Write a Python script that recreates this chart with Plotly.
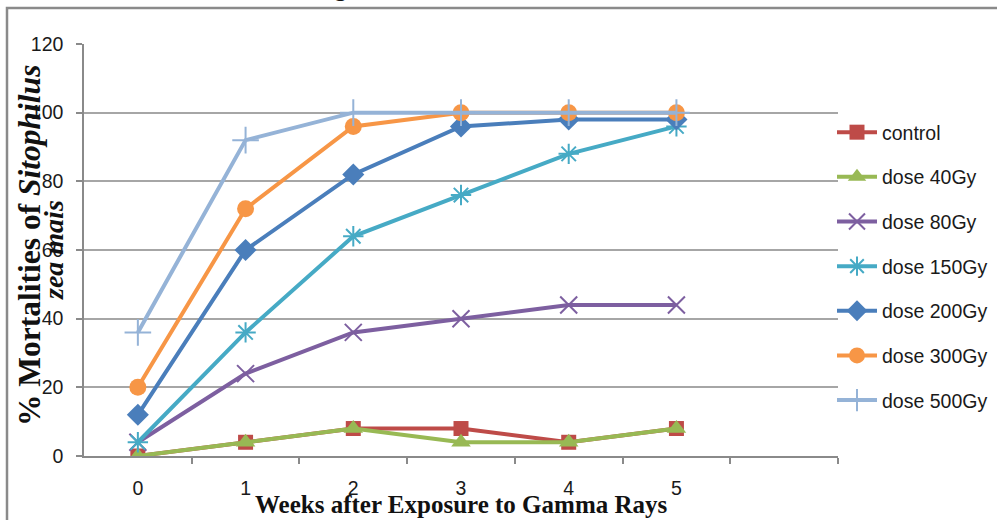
import plotly.graph_objects as go

weeks = [0, 1, 2, 3, 4, 5]
week_labels = ["0", "1", "2", "3", "4", "5"]
series_names = ["control", "dose 40Gy", "dose 80Gy", "dose 150Gy",
                "dose 200Gy", "dose 300Gy", "dose 500Gy"]
control = [0, 4, 8, 8, 4, 8]
dose_40 = [0, 4, 8, 4, 4, 8]
dose_80 = [4, 24, 36, 40, 44, 44]
dose_150 = [4, 36, 64, 76, 88, 96]
dose_200 = [12, 60, 82, 96, 98, 98]
dose_300 = [20, 72, 96, 100, 100, 100]
dose_500 = [36, 92, 100, 100, 100, 100]
y_ticks = [0, 20, 40, 60, 80, 100, 120]

values = [control, dose_40, dose_80, dose_150, dose_200, dose_300, dose_500]
colors = ["#BE4B48", "#98B954", "#7D5FA0", "#46AAC5", "#4A7EBB", "#F79646", "#95B3D7"]
symbols = ["square", "triangle-up", "x-thin-open", "asterisk-open",
           "diamond", "circle", "cross-thin-open"]
sizes = [15, 17, 17, 17, 17, 17, 19]

# plot area in pixels
W, H = 997, 520
L, R, T, B = 84, 838, 44, 456
pw, ph = R - L, B - T

def px(x):
    return (x - L) / pw

def py(y):
    return (B - y) / ph

sans = "Liberation Sans, Arial, sans-serif"
serif = "Liberation Serif, Times New Roman, serif"

fig = go.Figure()
for i, (name, vals) in enumerate(zip(series_names, values)):
    thin = symbols[i].endswith("open")
    fig.add_trace(go.Scatter(
        x=weeks, y=vals, name=name, mode="lines+markers",
        legendgroup=name,
        line=dict(color=colors[i], width=4),
        marker=dict(symbol=symbols[i], size=sizes[i], color=colors[i],
                    line=dict(color=colors[i], width=2 if thin else 0)),
    ))

fig.update_layout(
    width=W, height=H,
    margin=dict(l=L, r=W - R, t=T, b=H - B, pad=0, autoexpand=False),
    paper_bgcolor="white", plot_bgcolor="white",
    showlegend=True,
    legend=dict(x=px(832), y=py(113), xanchor="left", yanchor="top",
                font=dict(family=sans, size=19.5, color="#1a1a1a"),
                tracegroupgap=16.3, itemwidth=40, bgcolor="rgba(0,0,0,0)"),
    xaxis=dict(range=[-0.5, 6.5], tickmode="array", tickvals=weeks,
               ticktext=week_labels, ticks="", showgrid=False, zeroline=False,
               showline=True, linecolor="#8a8a8a", linewidth=1.5,
               tickfont=dict(family=sans, size=19.5, color="#1a1a1a"),
               ticklabelstandoff=14,
               minor=dict(tickmode="array", tickvals=[0.5, 1.5, 2.5, 3.5, 4.5, 5.5, 6.5],
                          ticks="outside", ticklen=6, tickcolor="#8a8a8a",
                          tickwidth=1.5, showgrid=False)),
    yaxis=dict(range=[0, 120], tickmode="array", tickvals=y_ticks,
               ticks="outside", ticklen=6, tickcolor="#8a8a8a", tickwidth=1.5,
               showgrid=True, gridcolor="#a6a6a6", gridwidth=1.5, zeroline=False,
               showline=True, linecolor="#8a8a8a", linewidth=1.5,
               tickfont=dict(family=sans, size=19.5, color="#1a1a1a"),
               ticklabelstandoff=9),
)

# outer frame (partially outside the picture)
fig.add_shape(type="rect", xref="paper", yref="paper",
              x0=px(7), x1=px(1015), y0=py(8), y1=py(540),
              line=dict(color="#8a8a8a", width=2.5), fillcolor="rgba(0,0,0,0)",
              layer="below")

# axis titles
fig.add_annotation(xref="paper", yref="paper", x=px(461), y=py(504),
                   text="<b>Weeks after Exposure to Gamma Rays</b>", showarrow=False,
                   xanchor="center", yanchor="middle",
                   font=dict(family=serif, size=25, color="#111"))
fig.add_annotation(xref="paper", yref="paper", x=px(29), y=py(246),
                   text="<b>% Mortalities of <i>Sitophilus</i></b>", showarrow=False,
                   textangle=-90, xanchor="center", yanchor="middle",
                   font=dict(family=serif, size=31.5, color="#111"))
fig.add_annotation(xref="paper", yref="paper", x=px(53), y=py(250),
                   text="<b><i>zea mais</i></b>", showarrow=False,
                   textangle=-90, xanchor="center", yanchor="middle",
                   font=dict(family=serif, size=28, color="#111"))
# cut-off title fragment at the top edge
fig.add_annotation(xref="paper", yref="paper", x=px(340), y=py(4),
                   text="g", showarrow=False, xanchor="center", yanchor="bottom",
                   font=dict(family=serif, size=26, color="#111"))

fig.write_html("out.html", config={"displayModeBar": False},
               post_script="document.body.style.margin='0px';")
